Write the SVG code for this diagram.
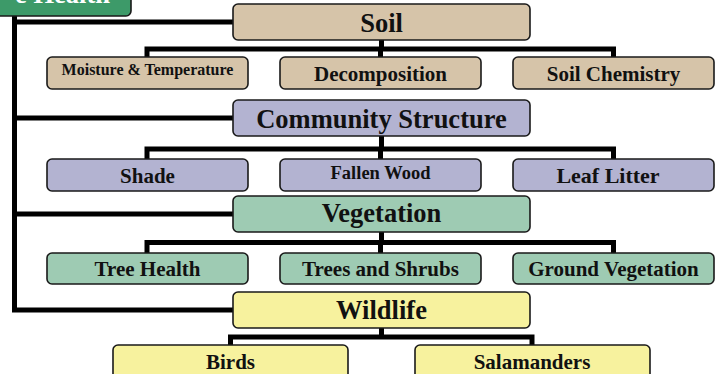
<svg xmlns="http://www.w3.org/2000/svg" width="716" height="374" viewBox="0 0 716 374">
<style>
.box{stroke:#1a1a1a;stroke-width:1.6}
.soil{fill:#d6c4a9}
.comm{fill:#b3b3d1}
.veg{fill:#9ecbb3}
.wild{fill:#f7f29e}
.top{fill:#3d9a69}
.conn{fill:none;stroke:#000;stroke-width:5;stroke-linejoin:miter;stroke-linecap:butt}
text{font-family:"Liberation Serif","Times New Roman",serif;font-weight:bold;fill:#111;text-anchor:middle}
.main{font-size:26.5px}
.sub{font-size:21px}
</style>
<rect width="716" height="374" fill="#fff"/>
<g id="connectors">
  <path class="conn" d="M14.5,16 V310 H234"/>
  <path class="conn" d="M12,22 H234 M12,118 H234 M12,214 H234"/>
  <path class="conn" d="M381.5,40 V49 M147,58 V49 H613.5 V58 M380.5,49 V58"/>
  <path class="conn" d="M381.5,136 V149 M147,160 V149 H613.5 V160 M380.5,149 V160"/>
  <path class="conn" d="M381.5,232 V242.5 M147,254 V242.5 H613.5 V254 M380.5,242.5 V254"/>
  <path class="conn" d="M381.5,328 V337 M230.5,346 V337 H532 V346"/>
</g>
<g id="top-node">
  <rect class="box top" x="-10" y="-30" width="141" height="46" rx="5"/>
  <text class="main" x="110" y="3" style="fill:#fff;text-anchor:end">e Health</text>
</g>
<g id="soil">
  <rect class="box soil" x="233" y="4" width="297" height="36" rx="5"/>
  <text class="main" x="381.5" y="32">Soil</text>
</g>
<g id="moisture">
  <rect class="box soil" x="47" y="57" width="201" height="32" rx="5"/>
  <text x="147.5" y="75" style="font-size:16px">Moisture &amp; Temperature</text>
</g>
<g id="decomposition">
  <rect class="box soil" x="280" y="57" width="201" height="32" rx="5"/>
  <text class="sub" x="380.5" y="81">Decomposition</text>
</g>
<g id="soil-chemistry">
  <rect class="box soil" x="513" y="57" width="201" height="32" rx="5"/>
  <text class="sub" x="613.5" y="81">Soil Chemistry</text>
</g>
<g id="community">
  <rect class="box comm" x="233" y="100" width="297" height="36" rx="5"/>
  <text class="main" x="381.5" y="128">Community Structure</text>
</g>
<g id="shade">
  <rect class="box comm" x="47" y="159" width="201" height="32" rx="5"/>
  <text class="sub" x="147.5" y="183">Shade</text>
</g>
<g id="fallen-wood">
  <rect class="box comm" x="280" y="159" width="201" height="32" rx="5"/>
  <text x="380.5" y="178.5" style="font-size:18.5px">Fallen Wood</text>
</g>
<g id="leaf-litter">
  <rect class="box comm" x="513" y="159" width="201" height="32" rx="5"/>
  <text class="sub" x="608" y="183" style="font-size:22px">Leaf Litter</text>
</g>
<g id="vegetation">
  <rect class="box veg" x="233" y="196" width="297" height="36" rx="5"/>
  <text class="main" x="381.5" y="222">Vegetation</text>
</g>
<g id="tree-health">
  <rect class="box veg" x="47" y="253" width="201" height="31" rx="5"/>
  <text class="sub" x="147.5" y="276">Tree Health</text>
</g>
<g id="trees-shrubs">
  <rect class="box veg" x="280" y="253" width="201" height="31" rx="5"/>
  <text class="sub" x="380.5" y="276">Trees and Shrubs</text>
</g>
<g id="ground-vegetation">
  <rect class="box veg" x="513" y="253" width="201" height="31" rx="5"/>
  <text class="sub" x="613.5" y="276">Ground Vegetation</text>
</g>
<g id="wildlife">
  <rect class="box wild" x="233" y="292" width="297" height="36" rx="5"/>
  <text class="main" x="381.5" y="318.5">Wildlife</text>
</g>
<g id="birds">
  <rect class="box wild" x="113" y="345" width="235" height="40" rx="5"/>
  <text class="sub" x="230.5" y="368.5">Birds</text>
</g>
<g id="salamanders">
  <rect class="box wild" x="415" y="345" width="235" height="40" rx="5"/>
  <text class="sub" x="532" y="368.5">Salamanders</text>
</g>
</svg>
